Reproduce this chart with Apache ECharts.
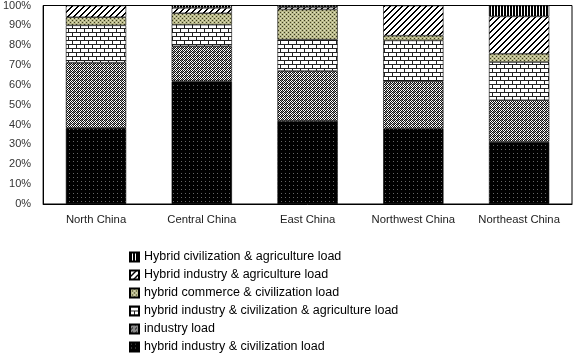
<!DOCTYPE html>
<html><head><meta charset="utf-8">
<script src="https://cdn.jsdelivr.net/npm/echarts@6/dist/echarts.min.js"></script>
<style>html,body{margin:0;padding:0;background:#fff}#c{width:574px;height:358px}</style>
</head><body><div id="c"></div>
<script>
const categories = ['North China','Central China','East China','Northwest China','Northeast China'];
const seriesNames = [
  'hybrid industry & civilization load',
  'industry load',
  'hybrid industry & civilization & agriculture load',
  'hybrid commerce & civilization load',
  'Hybrid industry & agriculture load',
  'Hybrid civilization & agriculture load'
];
const hybridIndCiv   = [38.3, 61.8, 41.9, 38.0, 31.3];
const industry       = [32.9, 17.7, 25.1, 23.8, 21.0];
const hybridIndCivAg = [18.8, 10.8, 15.8, 20.6, 19.2];
const commerceCiv    = [4.1, 5.8, 15.2, 2.4, 4.2];
const indAgri        = [5.9, 2.7, 1.2, 15.2, 18.8];
const civAgri        = [0.0, 1.2, 0.8, 0.0, 5.5];
const yTicks = [0,10,20,30,40,50,60,70,80,90,100];

function mk(w, h, draw) {
  const c = document.createElement('canvas');
  c.width = w; c.height = h;
  const g = c.getContext('2d');
  draw(g);
  return c;
}
const patDots = mk(4, 4, g => { g.fillStyle = '#000'; g.fillRect(0,0,4,4); g.fillStyle = '#666'; g.fillRect(1,1,1,1); });
const patChecker = mk(4, 4, g => {
  g.fillStyle = '#fff'; g.fillRect(0,0,4,4);
  g.fillStyle = '#111';
  g.fillRect(0,0,1,1); g.fillRect(2,0,1,1); g.fillRect(1,1,1,1); g.fillRect(3,1,1,1);
  g.fillRect(0,2,1,1); g.fillRect(2,2,1,1); g.fillRect(1,3,1,1); g.fillRect(3,3,1,1);
  g.fillStyle = '#888';
  g.fillRect(1,0,1,1); g.fillRect(2,3,1,1);
});
const patBrick = mk(8, 8, g => {
  g.fillStyle = '#fff'; g.fillRect(0,0,8,8);
  g.fillStyle = '#222';
  g.fillRect(0,0,8,1); g.fillRect(0,4,8,1);
  g.fillRect(0,1,1,3); g.fillRect(4,5,1,3);
});
const patOlive = mk(4, 4, g => {
  g.fillStyle = '#b9b98a'; g.fillRect(0,0,4,4);
  g.fillStyle = '#3c3c20';
  g.fillRect(0,0,1,1); g.fillRect(2,2,1,1);
  g.fillStyle = '#e0e0c0';
  g.fillRect(2,0,1,1); g.fillRect(0,2,1,1);
});
const patDiag = mk(6, 6, g => {
  g.fillStyle = '#fff'; g.fillRect(0,0,6,6);
  g.fillStyle = '#000';
  for (let i = 0; i < 6; i++) { g.fillRect((5 - i + 6) % 6, i, 2, 1); if ((5-i)+2 > 6) g.fillRect(0, i, (5-i)+2-6, 1); }
});
const patVert = mk(3, 3, g => { g.fillStyle = '#fff'; g.fillRect(0,0,3,3); g.fillStyle = '#000'; g.fillRect(0,0,2,3); });

const patterns = [patDots, patChecker, patBrick, patOlive, patDiag, patVert];
const values = [hybridIndCiv, industry, hybridIndCivAg, commerceCiv, indAgri, civAgri];

const chart = echarts.init(document.getElementById('c'), null, {renderer: 'canvas'});
const font = 'Liberation Sans';
chart.setOption({
  animation: false,
  grid: {left: 39, right: 2, top: 5, bottom: 154, show: true, borderColor: '#000', borderWidth: 1},
  legend: {
    orient: 'vertical', left: 129, top: 250, height: 115, padding: 0,
    icon: 'rect',
    itemWidth: 9, itemHeight: 9, itemGap: 4,
    data: seriesNames.slice().reverse(),
    textStyle: {fontFamily: font, fontSize: 12.5, color: '#000', lineHeight: 14}
  },
  xAxis: {
    type: 'category', data: categories,
    axisLine: {lineStyle: {color: '#000'}}, axisTick: {show: false},
    axisLabel: {interval: 0, fontFamily: font, fontSize: 11.3, color: '#222', margin: 10}
  },
  yAxis: {
    type: 'value', min: yTicks[0], max: yTicks[yTicks.length-1], interval: 10,
    axisLine: {show: true, lineStyle: {color: '#000'}}, axisTick: {show: false},
    splitLine: {show: false},
    axisLabel: {formatter: '{value}%', fontFamily: font, fontSize: 11, color: '#333', margin: 12}
  },
  series: seriesNames.map((n, i) => ({
    name: n, type: 'bar', stack: 'total', barWidth: '57%',
    data: values[i],
    itemStyle: {color: {image: patterns[i], repeat: 'repeat'}, borderColor: '#000', borderWidth: 0.6}
  }))
});
</script></body></html>
